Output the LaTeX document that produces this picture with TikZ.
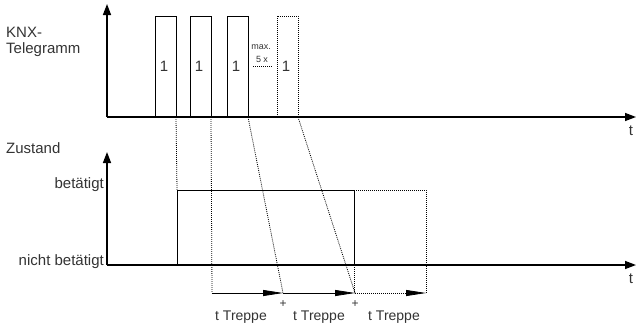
\documentclass[tikz,border=0pt]{standalone}
\usepackage{fontspec}
\setmainfont{Liberation Sans}
\usetikzlibrary{arrows.meta}
\definecolor{txt}{gray}{0.2}
\begin{document}
\begin{tikzpicture}[x=1pt,y=-1pt,
  axis/.style={line width=1.4pt, -{Triangle[length=11pt,width=8pt]}},
  pulse/.style={line width=0.8pt},
  dots/.style={dash pattern=on 0.9pt off 1.1pt, line width=0.8pt},
  lbl/.style={font=\fontsize{15}{15}\selectfont, text=txt, inner sep=0pt},
  tlbl/.style={font=\fontsize{14}{14}\selectfont, text=txt, inner sep=0pt},
  small/.style={font=\fontsize{9}{9}\selectfont, text=txt, inner sep=0pt},
  tarrow/.style={line width=0.8pt, -{Triangle[length=20pt,width=6pt]}}]
\useasboundingbox (0,0) rectangle (636,327);
% axes
\coordinate (o1) at (107,117);
\coordinate (y1) at (107,4);
\coordinate (x1) at (636,117);
\coordinate (o2) at (107,265);
\coordinate (y2) at (107,152);
\coordinate (x2) at (636,265);
\draw[axis] (o1) -- (y1);
\draw[axis] (o1) -- (x1);
\draw[axis] (o2) -- (y2);
\draw[axis] (o2) -- (x2);
% pulses
\draw[pulse] (155,117) |- (176,16) -- (176,117);
\draw[pulse] (190,117) |- (211,16) -- (211,117);
\draw[pulse] (227,117) |- (248,16) -- (248,117);
\draw[dots] (277,117) |- (298,16) -- (298,117);
\node[lbl] (p1) at (164,66) {1};
\node[lbl] (p2) at (199,66) {1};
\node[lbl] (p3) at (236,66) {1};
\node[lbl] (p4) at (286,66) {1};
\node[small] (mx) at (261,47) {max.};
\node[small] (fx) at (262,59) {5 x};
\coordinate (m1) at (253,66);
\coordinate (m2) at (272,66);
\draw[dots, line width=0.6pt] (m1) -- (m2);
% state
\draw[pulse] (177,265) -- (177,190) -- (354,190) -- (354,265);
\draw[dots] (354,190) -- (426,190) -- (426,293);
% projections
\draw[dots] (176,117) -- (177,190);
\draw[dots] (211,117) -- (212,293);
\draw[dots] (248,117) -- (283,293);
\draw[dots] (298,117) -- (355,293);
\draw[dots] (354,265) -- (354,293);
% timing arrows
\coordinate (a0) at (212,293);
\coordinate (a1) at (283,293);
\coordinate (a2) at (355,293);
\coordinate (a3) at (426,293);
\draw[tarrow] (a0) -- (a1);
\draw[tarrow] (a1) -- (a2);
\draw[tarrow, dash pattern=on 0.9pt off 1.1pt] (a2) -- (a3);
\node[small, font=\fontsize{12}{12}\selectfont] (pl1) at (283,304) {+};
\node[small, font=\fontsize{12}{12}\selectfont] (pl2) at (355,304) {+};
\node[tlbl] (tt1) at (241,317) {t Treppe};
\node[tlbl] (tt2) at (319,317) {t Treppe};
\node[tlbl] (tt3) at (394,317) {t Treppe};
% labels
\node[lbl] (t1) at (631,131) {t};
\node[lbl] (t2) at (631,279) {t};
\node[lbl, anchor=west] (knx) at (6,32) {KNX-};
\node[lbl, anchor=west] (tel) at (6,50) {Telegramm};
\node[lbl, anchor=west] (zu) at (6,148) {Zustand};
\node[lbl, anchor=east] (bet) at (104,185) {betätigt};
\node[lbl, anchor=east] (nbet) at (104,262) {nicht betätigt};
\end{tikzpicture}
\end{document}
